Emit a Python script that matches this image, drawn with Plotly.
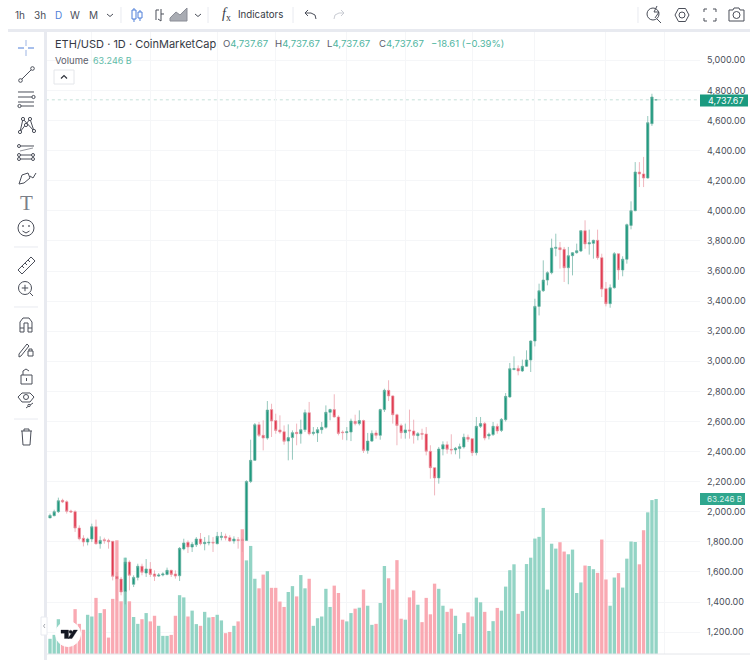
import plotly.graph_objects as go

# ETH/USD daily candles
opens = [1959, 1974, 2001, 2076, 2067, 2005, 2001, 1892, 1824, 1799, 1819, 1901, 1788, 1815, 1810, 1804, 1571, 1553, 1471, 1666,
         1518, 1564, 1638, 1593, 1620, 1587, 1573, 1580, 1584, 1611, 1587, 1575, 1753, 1797, 1766, 1781, 1819, 1788, 1793, 1797,
         1788, 1830, 1837, 1828, 1806, 1815, 1815, 1810, 2202, 2342, 2579, 2508, 2490, 2679, 2606, 2544, 2532, 2470, 2493, 2528,
         2519, 2546, 2659, 2521, 2524, 2546, 2561, 2661, 2679, 2630, 2530, 2526, 2530, 2601, 2586, 2606, 2408, 2470, 2524, 2508,
         2679, 2807, 2770, 2645, 2574, 2526, 2544, 2537, 2506, 2521, 2517, 2402, 2293, 2225, 2417, 2446, 2415, 2411, 2420, 2431,
         2495, 2486, 2393, 2568, 2586, 2504, 2513, 2568, 2541, 2612, 2763, 2946, 2953, 2936, 2967, 3009, 3135, 3365, 3469, 3540,
         3589, 3751, 3755, 3744, 3622, 3702, 3722, 3733, 3868, 3780, 3784, 3804, 3689, 3483, 3383, 3489, 3715, 3607, 3678, 3903,
         4001, 4258, 4245, 4218, 4579, 4737.6]
highs = [1988, 2014, 2094, 2087, 2076, 2014, 2010, 1910, 1844, 1828, 1921, 1948, 1837, 1828, 1821, 1804, 1600, 1567, 1695, 1677,
         1578, 1655, 1655, 1686, 1666, 1611, 1593, 1598, 1629, 1615, 1611, 1766, 1821, 1810, 1799, 1832, 1859, 1832, 1844, 1832,
         1866, 1866, 1855, 1844, 1837, 1832, 1828, 2209, 2479, 2590, 2597, 2608, 2736, 2718, 2652, 2641, 2574, 2581, 2541, 2586,
         2612, 2679, 2730, 2563, 2563, 2597, 2707, 2685, 2781, 2641, 2541, 2563, 2619, 2645, 2674, 2612, 2524, 2541, 2541, 2685,
         2818, 2874, 2774, 2652, 2586, 2586, 2679, 2612, 2530, 2552, 2563, 2442, 2293, 2431, 2468, 2468, 2515, 2431, 2453, 2519,
         2513, 2486, 2630, 2630, 2597, 2526, 2597, 2586, 2623, 2789, 2989, 3033, 2973, 3011, 3073, 3139, 3416, 3516, 3671, 3598,
         3815, 3848, 3793, 3760, 3760, 3726, 3782, 3870, 3937, 3875, 3808, 3875, 3715, 3527, 3511, 3726, 3715, 3698, 3915, 4063,
         4324, 4324, 4358, 4630, 4778, 4737.67]
lows = [1959, 1970, 1992, 2058, 1988, 1992, 1866, 1810, 1770, 1777, 1799, 1782, 1755, 1788, 1755, 1544, 1412, 1445, 1385, 1478,
        1500, 1544, 1578, 1567, 1567, 1540, 1567, 1571, 1578, 1567, 1556, 1540, 1744, 1726, 1733, 1766, 1777, 1744, 1777, 1733,
        1784, 1810, 1810, 1799, 1788, 1755, 1733, 1806, 2191, 2338, 2497, 2408, 2479, 2497, 2519, 2519, 2446, 2342, 2346, 2442,
        2453, 2530, 2508, 2508, 2464, 2519, 2552, 2608, 2626, 2508, 2479, 2475, 2470, 2574, 2574, 2391, 2386, 2464, 2486, 2479,
        2663, 2736, 2586, 2442, 2486, 2486, 2486, 2453, 2475, 2479, 2375, 2220, 2109, 2187, 2375, 2386, 2382, 2382, 2353, 2420,
        2464, 2371, 2375, 2557, 2475, 2481, 2504, 2519, 2530, 2600, 2758, 2940, 2907, 2929, 2962, 2929, 3099, 3305, 3461, 3505,
        3578, 3698, 3616, 3527, 3512, 3571, 3715, 3726, 3748, 3709, 3682, 3675, 3427, 3365, 3356, 3483, 3542, 3565, 3649, 3877,
        3997, 4158, 4158, 4214, 4564, 4737.67]
closes = [1976, 2001, 2074, 2065, 2003, 1999, 1892, 1821, 1799, 1819, 1901, 1788, 1810, 1808, 1801, 1571, 1553, 1467, 1666, 1578,
          1564, 1638, 1598, 1620, 1584, 1571, 1580, 1587, 1611, 1584, 1573, 1757, 1793, 1766, 1784, 1819, 1788, 1797, 1797, 1793,
          1837, 1837, 1826, 1806, 1819, 1810, 1810, 2202, 2342, 2579, 2508, 2490, 2676, 2603, 2541, 2530, 2468, 2493, 2526, 2519,
          2546, 2659, 2519, 2528, 2546, 2561, 2661, 2679, 2630, 2521, 2526, 2532, 2603, 2586, 2606, 2408, 2470, 2521, 2508, 2679,
          2807, 2770, 2645, 2574, 2526, 2544, 2537, 2508, 2519, 2515, 2402, 2293, 2225, 2417, 2446, 2415, 2411, 2422, 2433, 2495,
          2482, 2393, 2568, 2586, 2490, 2515, 2568, 2537, 2614, 2767, 2951, 2951, 2936, 2967, 3009, 3135, 3365, 3469, 3540, 3589,
          3753, 3757, 3742, 3622, 3702, 3722, 3735, 3868, 3780, 3788, 3804, 3689, 3480, 3383, 3489, 3715, 3607, 3678, 3908, 4001,
          4258, 4245, 4218, 4586, 4756.28, 4737.67]
# volume in billions of USD
volumes = [6.2, 7.8, 14.2, 8.5, 9.9, 7.1, 18.3, 12.3, 9.9, 16.0, 15.3, 22.9, 16.7, 18.3, 6.7, 22.5, 46.4, 21.5, 39.3, 21.5,
           15.1, 12.3, 14.2, 16.7, 13.3, 15.6, 11.5, 7.4, 7.4, 7.8, 15.6, 24.0, 23.1, 15.3, 17.7, 12.2, 11.5, 17.2, 14.9, 15.1,
           16.0, 13.7, 8.5, 9.0, 11.5, 13.3, 50.9, 38.2, 44.1, 30.7, 26.8, 32.4, 33.8, 27.0, 27.0, 21.4, 19.2, 25.3, 27.7, 23.5,
           32.2, 26.8, 30.7, 11.5, 14.6, 15.3, 26.6, 19.2, 27.9, 24.9, 14.0, 13.3, 16.7, 18.5, 18.9, 26.3, 19.7, 11.9, 12.3, 20.8,
           35.9, 30.9, 26.3, 38.3, 14.4, 14.0, 23.1, 25.9, 20.1, 13.0, 22.9, 16.2, 28.7, 26.6, 19.7, 17.2, 18.5, 15.6, 8.2, 12.6,
           17.0, 15.3, 23.0, 21.1, 17.2, 9.4, 13.4, 18.8, 17.7, 27.5, 34.2, 36.6, 16.4, 17.5, 36.7, 39.3, 47.1, 47.8, 59.6, 26.3,
           45.0, 43.0, 45.6, 41.8, 40.7, 42.6, 24.9, 29.2, 36.1, 35.9, 34.6, 33.1, 46.7, 30.4, 19.7, 31.2, 33.0, 27.1, 38.9, 45.9,
           45.7, 36.6, 50.5, 57.8, 62.8, 63.246]
days = list(range(len(closes)))
price_ticks = [1200, 1400, 1600, 1800, 2000, 2200, 2400, 2600, 2800, 3000, 3200, 3400, 3600, 3800, 4000, 4200, 4400, 4600, 4800, 5000]
grid_days = [10, 24, 40, 54, 71, 85, 101, 116, 133, 147]

UP, DOWN = '#1f9a7f', '#e2394f'
UP_WICK, DOWN_WICK = '#68b0a0', '#ea97a2'
UP_VOL, DOWN_VOL = '#93d4c5', '#f9a9b2'
ICON, SEP, GRID, BLUE = '#4a4e59', '#e8eaf0', '#f5f6f8', '#4f7fd9'
FONT = 'Inter'
W, H = 755, 660


def px(x, y):
    return x / W, 1 - y / H


shapes = []
notes = []


def line(points, color=ICON, w=1.0, fill=None, close=False):
    d = 'M' + ' L'.join('%.5f,%.5f' % px(x, y) for x, y in points)
    shapes.append(dict(type='path', path=d + (' Z' if close else ''), xref='paper', yref='paper',
                       line=dict(color=color, width=w), fillcolor=fill))


def ring(cx, cy, r, color=ICON, w=1.0, fill=None):
    x0, y0 = px(cx - r, cy + r)
    x1, y1 = px(cx + r, cy - r)
    shapes.append(dict(type='circle', x0=x0, x1=x1, y0=y0, y1=y1, xref='paper', yref='paper',
                       line=dict(color=color, width=w), fillcolor=fill))


def box(x0, y0, x1, y1, fill=None, color=None, w=0):
    a, b = px(x0, y1)
    c, d = px(x1, y0)
    shapes.append(dict(type='rect', x0=a, x1=c, y0=b, y1=d, xref='paper', yref='paper', fillcolor=fill,
                       line=dict(color=color or 'rgba(0,0,0,0)', width=w)))


def note(text, x, y, size=11, color='#363a45', anchor='left', family=FONT):
    a, b = px(x, y)
    notes.append(dict(text=text, x=a, y=b, xref='paper', yref='paper', xanchor=anchor, yanchor='middle',
                      showarrow=False, font=dict(family=family, size=size, color=color), borderpad=0))


# panel separators and bottom axis line
box(8, 29, 750, 32, fill=SEP)
box(44, 32, 47, 660, fill=SEP)
line([(47, 654), (750, 654)], color='#e4e6ea', w=1)
for x in (121, 208, 293, 638):
    line([(x, 7), (x, 23)], color=SEP)
for y in (247, 307, 419):
    line([(14, y), (38, y)], color=SEP)

# top toolbar
for label, x, col in [('1h', 20, ICON), ('3h', 40, ICON), ('D', 58, BLUE), ('W', 75, ICON), ('M', 93, ICON)]:
    note(label, x, 15, size=10, color=col, anchor='center')
note('Indicators', 237, 15, size=9.7)
note('<i>f</i><sub>x</sub>', 226, 15, size=14, anchor='center', family='Liberation Serif')
for x in (110, 198):
    line([(x - 3, 14), (x, 16.5), (x + 3, 14)])
# candle type icon
line([(134, 8), (134, 22)], color=BLUE)
box(132, 10, 136, 19, fill='white', color=BLUE, w=1)
line([(140, 10), (140, 21)], color=BLUE)
box(138, 12, 142, 18, fill='white', color=BLUE, w=1)
# bars icon
line([(156, 20), (156, 10), (159, 10)])
line([(161, 9), (161, 21), (158, 19)])
line([(161, 14), (164, 14)])
# area icon
line([(170, 21), (170, 18), (176, 12), (180, 15), (187, 8), (187, 21)], color='#8a8d96', fill='#a9acb3', close=True)
# undo / redo
line([(316, 19), (315, 15), (311, 13), (305, 13)])
line([(308, 10), (305, 13), (308, 16)])
line([(334, 19), (335, 15), (339, 13), (344, 13)], color='#c9ccd3')
line([(341, 10), (344, 13), (341, 16)], color='#c9ccd3')
# right side icons
ring(653, 14, 6)
line([(657, 19), (661, 23)])
line([(657, 6), (654, 12), (659, 12), (655, 18)])
line([(675, 15), (678.5, 8.5), (685.5, 8.5), (689, 15), (685.5, 21.5), (678.5, 21.5)], close=True)
ring(682, 15, 3)
for x, y, dx, dy in [(704, 9, 1, 1), (716, 9, -1, 1), (704, 21, 1, -1), (716, 21, -1, -1)]:
    line([(x, y + 3 * dy), (x, y), (x + 3 * dx, y)])
line([(729, 10), (733, 10), (734, 8), (739, 8), (740, 10), (744, 10), (744, 21), (729, 21)], close=True)
ring(736.5, 15, 3.5)

# left drawing tools
line([(18, 48), (24, 48)], color=BLUE)
line([(28, 48), (34, 48)], color=BLUE)
line([(26, 40), (26, 46)], color='#9db5e4')
line([(26, 50), (26, 56)], color='#9db5e4')
line([(21, 80), (32, 69)])
ring(20.5, 80.5, 1.8, fill='white')
ring(32.5, 68.5, 1.8, fill='white')
for y in (92, 97, 102, 106):
    line([(18, y), (34, y)])
ring(33.5, 97, 1.6, fill='white')
ring(19.5, 106, 1.6, fill='white')
line([(20, 132), (23, 119), (34, 131), (30, 119), (20, 132)])
for x, y in [(20, 132), (23, 119), (34, 131), (30, 119), (26, 125)]:
    ring(x, y, 1.6, fill='white')
for y in (146, 155, 159):
    line([(19, y), (34, y)])
line([(20, 151), (33, 148)], w=0.6)
for x, y in [(19, 146), (19, 155), (33, 155), (19, 159), (33, 159)]:
    ring(x, y, 1.5, fill='white')
line([(19, 184), (22, 175), (28, 173), (30, 178), (24, 183)], close=True)
line([(30, 176), (33, 178), (36, 173)])
note('T', 26, 203, size=21, color='#7b7f89', anchor='center', family='Liberation Serif')
ring(26, 228, 8)
ring(23, 226, 0.5)
ring(29, 226, 0.5)
line([(22.5, 231), (26, 233), (29.5, 231)])
line([(18, 270), (31, 257), (35, 261), (22, 274)], close=True)
for t in range(4):
    line([(22 + 3 * t, 266 - 3 * t), (24 + 3 * t, 268 - 3 * t)])
ring(25, 288, 6.5)
line([(21.8, 288), (28.2, 288)])
line([(25, 284.8), (25, 291.2)])
line([(30, 293), (33, 296)])
line([(20, 332), (20, 322), (23, 318), (29, 318), (32, 322), (32, 332), (28, 332), (28, 323), (24, 323), (24, 332)], close=True)
line([(20, 328), (24, 328)])
line([(28, 328), (32, 328)])
line([(19, 354), (27, 344), (29, 346), (21, 356), (19, 357)], close=True)
box(28, 351, 33, 356, color=ICON, w=1)
line([(29, 351), (29, 349), (32, 349), (32, 351)])
box(21, 375, 32, 384, color=ICON, w=1)
line([(23, 375), (23, 371), (26, 369), (29, 371)])
line([(26.5, 378), (26.5, 381)])
line([(18, 397), (22, 393), (30, 393), (34, 397), (30, 402), (22, 402)], close=True)
ring(26, 397, 2.5)
line([(26, 408), (33, 403)])
ring(29, 405.5, 1.2, fill='white')
line([(21, 431), (32, 431)])
line([(24, 431), (24, 429), (29, 429), (29, 431)])
line([(22, 431), (23, 445), (30, 445), (31, 431)])

# legend lines
note('ETH/USD · 1D · CoinMarketCap', 54, 44, size=11)
for letter, x in [('O', 221.5), ('H', 273.5), ('L', 326), ('C', 377.5)]:
    note('%s<span style="color:#4fb59f">4,737.67</span>' % letter, x, 44, size=9.6, color='#5d606b')
note('−18.61 (−0.39%)', 430, 44, size=9.5, color='#4fb59f')
note('Volume', 54, 60, size=9.5, color='#5d606b')
note('63.246 B', 92, 60, size=9, color='#5fbba8')
box(54, 70, 74, 84, fill='white', color='#e4e6ea', w=1)
line([(61, 78.5), (64, 75.5), (67, 78.5)], color='#30333c', w=1.2)

# TradingView mark and the collapse tab
ring(68, 634, 12.5, color='white', fill='white')
line([(61, 630), (68.5, 630), (68.5, 638.5), (64.5, 638.5), (64.5, 633.2), (61, 633.2)], color='#131722', w=0.3, fill='#131722', close=True)
ring(70.6, 631.8, 1.6, color='#131722', w=0.3, fill='#131722')
line([(73.5, 630), (77.5, 630), (72, 638.5), (68, 638.5)], color='#131722', w=0.3, fill='#131722', close=True)
box(41, 617, 47, 635, fill='white', color=SEP, w=1)
line([(45, 624), (43.5, 626), (45, 628)], color='#a7aab2')

# price tags on the right scale
box(700, 94.5, 748, 106.5, fill='#1a9a7f')
note('4,737.67', 706.5, 100.8, size=9, color='white')
box(700, 493, 745, 505, fill='#2fa68d')
note('63.246 B', 706, 499, size=8.2, color='#d7f0ea')

fig = go.Figure()
fig.add_trace(go.Bar(
    x=days, y=volumes, width=0.8, yaxis='y', hoverinfo='skip',
    marker=dict(color=[UP_VOL if c >= o else DOWN_VOL for o, c in zip(opens, closes)], line_width=0),
))
fig.add_trace(go.Candlestick(
    x=days, open=opens, high=highs, low=lows, close=closes, yaxis='y2', whiskerwidth=0,
    increasing=dict(line=dict(color=UP_WICK, width=0.7), fillcolor=UP),
    decreasing=dict(line=dict(color=DOWN_WICK, width=0.7), fillcolor=DOWN),
))

# last price line
shapes.append(dict(type='line', xref='x', yref='y2', x0=-1, x1=156, y0=closes[-1], y1=closes[-1],
                   line=dict(color='#c6e0d9', width=1, dash='dot'), layer='below'))

fig.update_layout(
    width=W, height=H, autosize=False,
    margin=dict(l=0, r=0, t=0, b=0),
    paper_bgcolor='white', plot_bgcolor='white',
    showlegend=False, boxgap=0.2,
    font=dict(family=FONT, size=9, color='#4a4e59'),
    xaxis=dict(domain=[47 / W, 700 / W], range=[-0.72, 155.5], rangeslider=dict(visible=False),
               tickmode='array', tickvals=grid_days, showticklabels=False, ticks='',
               showgrid=True, gridcolor=GRID, gridwidth=1, zeroline=False),
    yaxis=dict(domain=[6 / H, 629 / H], range=[0, 254.2], showgrid=False, showticklabels=False, ticks='', zeroline=False),
    yaxis2=dict(overlaying='y', side='right', anchor='x', range=[1055, 5195], tickmode='array', tickvals=price_ticks,
                tickformat=',.2f', showgrid=True, gridcolor=GRID, gridwidth=1, zeroline=False, ticks='',
                ticklabelstandoff=6, tickfont=dict(family=FONT, size=9, color='#4a4e59')),
    shapes=shapes,
    annotations=notes,
)

fig.write_html("out.html", config={'displayModeBar': False}, post_script="document.body.style.margin='0';")
